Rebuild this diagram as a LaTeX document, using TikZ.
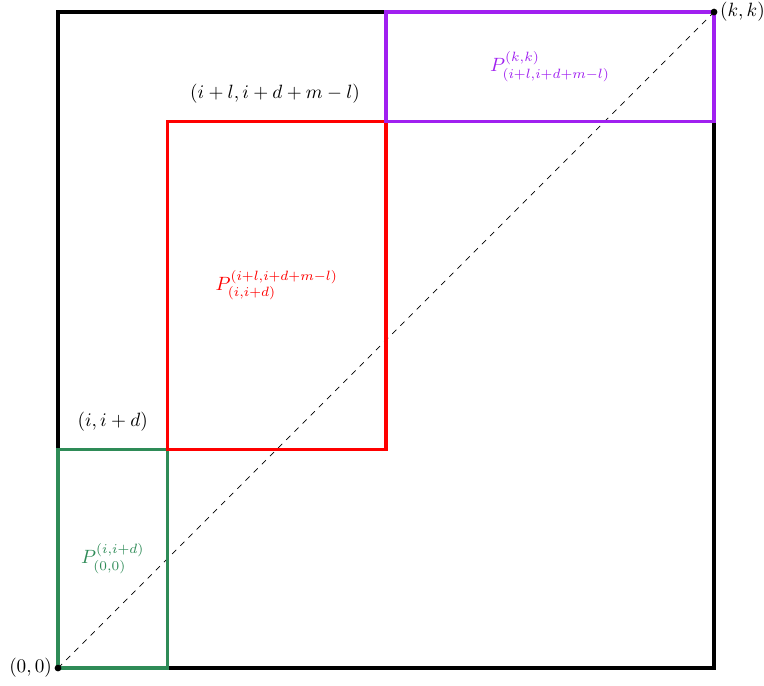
\documentclass[tikz,border=0pt]{standalone}
\usepackage{xcolor}
\definecolor{sgreen}{RGB}{46,139,87}
\definecolor{vpurple}{RGB}{160,32,240}
\begin{document}
\begin{tikzpicture}[x=2cm,y=2cm,
  frame/.style={line width=1.8pt},
  dot/.style={circle,fill=black,inner sep=0pt,minimum size=3.5pt},
  lbl/.style={inner sep=1pt}]
\useasboundingbox (-0.5305,-0.1555) rectangle (6.457,6.11);
\coordinate (O) at (0,0);
\coordinate (K) at (6,6);
\draw[frame,black] (0,0) rectangle (6,6);
\draw[dashed,line width=0.4pt] (O) -- (K);
\draw[frame,sgreen] (0,0) rectangle (1,2);
\draw[frame,red] (1,2) rectangle (3,5);
\draw[frame,vpurple] (3,5) rectangle (6,6);
\node[dot] (o) at (O) {};
\node[dot] (k) at (K) {};
\node[lbl,anchor=east] (lo) at (o.west) {$(0,0)$};
\node[lbl,anchor=west] (lk) at (k.east) {$(k,k)$};
\node (l1) at (0.5,2.25) {$(i,i+d)$};
\node (l2) at (1.985,5.25) {$(i+l,i+d+m-l)$};
\node[text=sgreen] (pg) at (0.5,1.0) {$P_{(0,0)}^{(i,i+d)}$};
\node[text=red] (pr) at (2.0,3.5) {$P_{(i,i+d)}^{(i+l,i+d+m-l)}$};
\node[text=vpurple] (pp) at (4.5,5.5) {$P_{(i+l,i+d+m-l)}^{(k,k)}$};
\end{tikzpicture}
\end{document}
